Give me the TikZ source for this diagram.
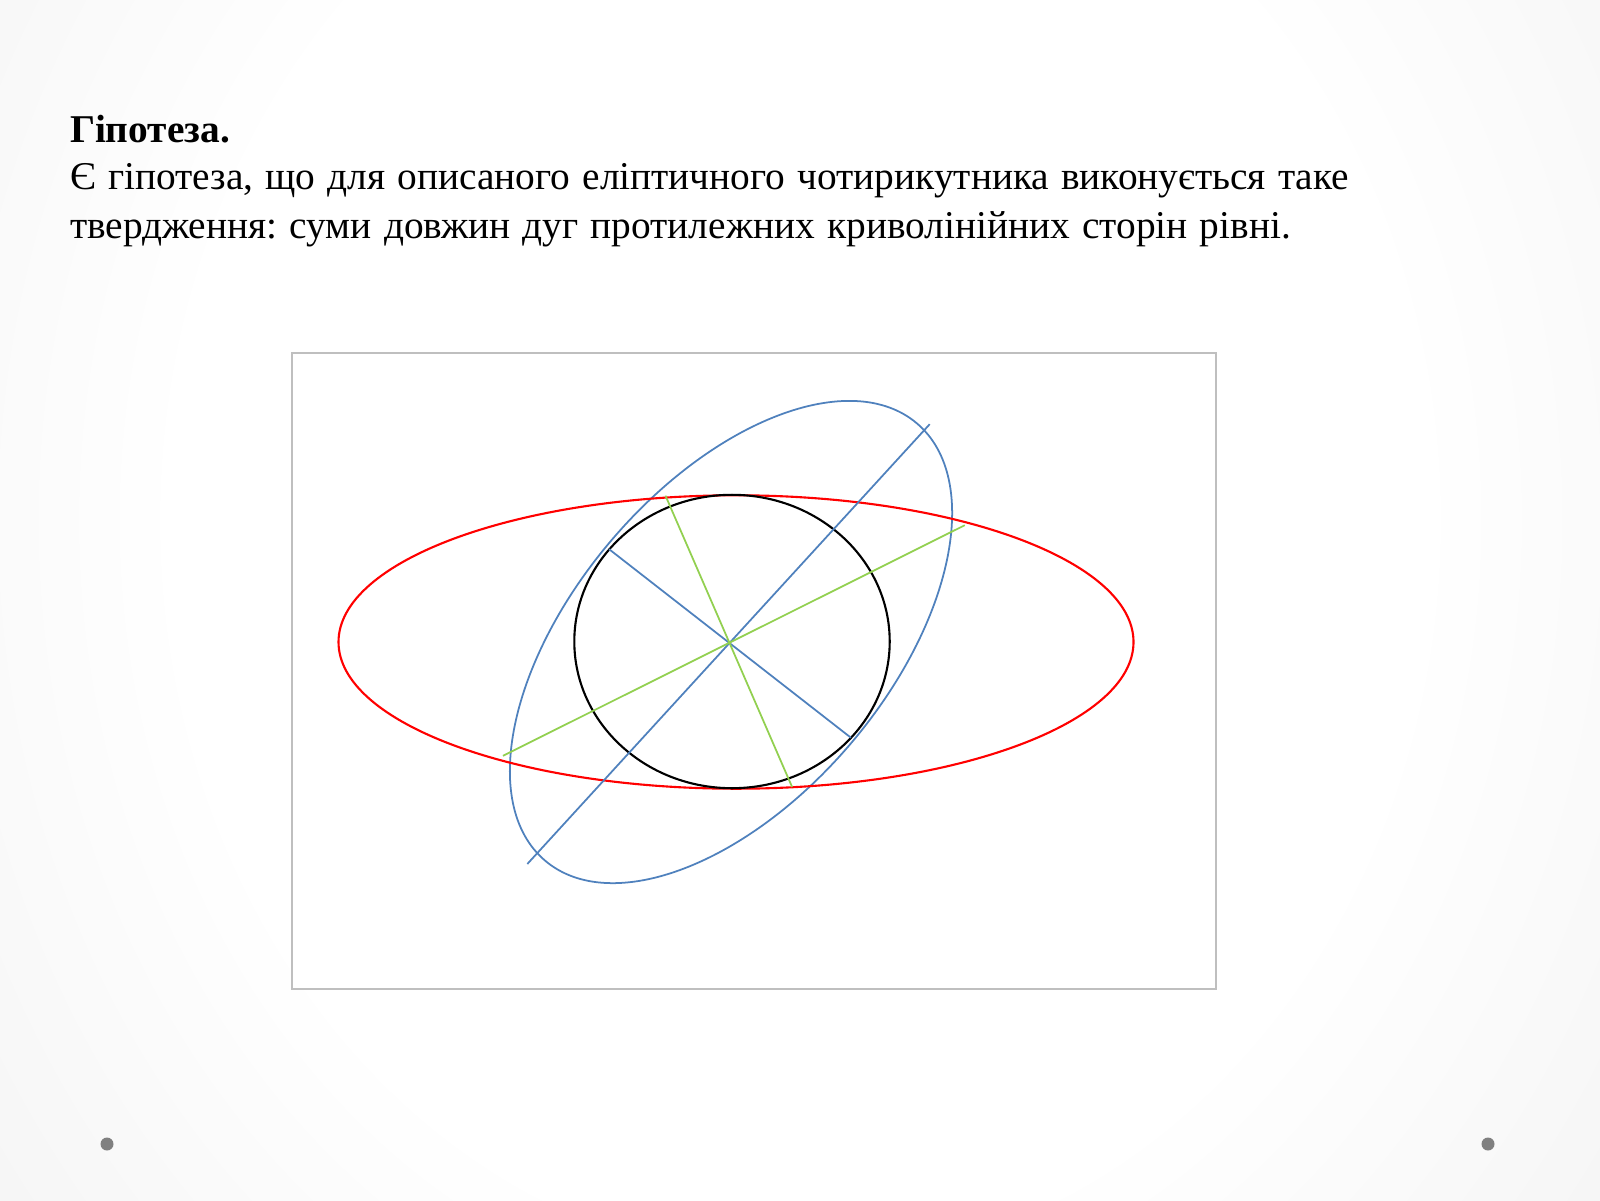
\documentclass[tikz,border=0pt]{standalone}
\usepackage{fontspec}
\setmainfont{Liberation Serif}
\definecolor{axblue}{HTML}{4F81BD}
\definecolor{axgreen}{HTML}{92D050}
\pgfdeclareradialshading{slidebg}{\pgfpoint{0bp}{0bp}}{color(0bp)=(white); color(10bp)=(white); color(20bp)=(black!6); color(25bp)=(black!14); color(30bp)=(black!20); color(50bp)=(black!20)}
\begin{document}
\frenchspacing
\begin{tikzpicture}
            \tikzstyle{every node}=[inner sep=0pt, outer sep=0pt, anchor=base west, font=\fontsize{11.2}{14}\selectfont, text=black]
            \tikzstyle{frame}=[draw=black!25, line width=0.6pt, fill=white]
            \tikzstyle{dot}=[fill=black!50]
            \tikzstyle{curve}=[line width=0.6pt]
            \tikzstyle{axis}=[line width=0.5pt]

            \useasboundingbox (0,0) rectangle (16,12);
            \begin{scope}
              \clip (0,0) rectangle (16,12);
              \shade[shading=slidebg] (8,6.8) ellipse (15.5 and 18);
            \end{scope}

            \node (title) at (0.70,10.57) {\bfseries Гіпотеза.};
            \node (lineA) at (0.70,10.10) {\makebox[12.79cm][s]{Є гіпотеза, що для описаного еліптичного чотирикутника виконується таке}};
            \node (lineB) at (0.70,9.61) {\makebox[12.21cm][s]{твердження: суми довжин дуг протилежних криволінійних сторін рівні.}};

            \draw[frame] (2.92,2.11) rectangle (12.16,8.47);

            \coordinate (O) at (7.31,5.58);
            \coordinate (Or) at (7.36,5.58);
            \coordinate (Oc) at (7.32,5.585);

            \draw[curve, axblue, line width=0.5pt, rotate around={49.6:(O)}] (O) ellipse (2.87 and 1.57);
            \draw[curve, red] (Or) ellipse (3.975 and 1.467);
            \draw[curve, black] (Oc) ellipse (1.577 and 1.467);

            \coordinate (B1) at (9.297,7.758);
            \coordinate (B2) at (5.273,3.360);
            \coordinate (b1) at (6.091,6.508);
            \coordinate (b2) at (8.509,4.623);
            \coordinate (G1) at (9.648,6.748);
            \coordinate (G2) at (5.030,4.442);
            \coordinate (g1) at (6.655,7.043);
            \coordinate (g2) at (7.921,4.130);

            \draw[axis, axblue] (B1) -- (B2);
            \draw[axis, axblue] (b1) -- (b2);
            \draw[axis, axgreen] (G1) -- (G2);
            \draw[axis, axgreen] (g1) -- (g2);

            \fill[dot] (1.07,0.56) circle (0.065);
            \fill[dot] (14.88,0.56) circle (0.065);
        \end{tikzpicture}
\end{document}
